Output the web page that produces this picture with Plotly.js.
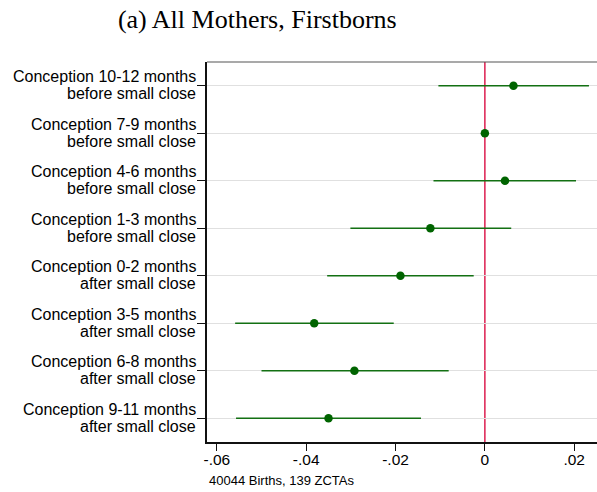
<!DOCTYPE html>
<html>
<head>
<meta charset="utf-8">
<script src="https://cdn.plot.ly/plotly-3.0.1.min.js"></script>
<style>html,body{margin:0;padding:0;background:#fff;}#chart{width:597px;height:492px;}</style>
</head>
<body>
<div id="chart"></div>
<script>
const categories = [
  "Conception 10-12 months<br>before small close",
  "Conception 7-9 months<br>before small close",
  "Conception 4-6 months<br>before small close",
  "Conception 1-3 months<br>before small close",
  "Conception 0-2 months<br>after small close",
  "Conception 3-5 months<br>after small close",
  "Conception 6-8 months<br>after small close",
  "Conception 9-11 months<br>after small close"
];
const estimates = [0.0064, 0.0, 0.0045, -0.0122, -0.0189, -0.0382, -0.0292, -0.0350];
const ciLow    = [-0.0104, 0.0, -0.0115, -0.0301, -0.0353, -0.0559, -0.0500, -0.0557];
const ciHigh   = [0.0233, 0.0, 0.0204, 0.0059, -0.0025, -0.0204, -0.0081, -0.0143];
const xTickVals = [-0.06, -0.04, -0.02, 0, 0.02];
const xTickText = ["-.06", "-.04", "-.02", "0", ".02"];
const titleText = "(a) All Mothers, Firstborns";
const noteText = "40044 Births, 139 ZCTAs";
const refLine = 0;

const plus = ciHigh.map((h, i) => h - estimates[i]);
const minus = estimates.map((e, i) => e - ciLow[i]);

const trace = {
  type: "scatter",
  mode: "markers",
  x: estimates,
  y: categories,
  marker: {color: "#006400", size: 8.5},
  error_x: {type: "data", symmetric: false, array: plus, arrayminus: minus,
            color: "#137013", thickness: 1.6, width: 0},
  hoverinfo: "skip",
  cliponaxis: false
};

const labelFont = {size: 16, family: "Liberation Sans, Arial, sans-serif", color: "#000"};
const labelAnnotations = [];
categories.forEach((c, i) => {
  const parts = c.split("<br>");
  labelAnnotations.push({text: parts[0], xref: "paper", yref: "y", x: 0, y: c,
    xanchor: "right", yanchor: "middle", xshift: -9, yshift: 8.8, showarrow: false, font: labelFont});
  labelAnnotations.push({text: parts[1], xref: "paper", yref: "y", x: 0, y: c,
    xanchor: "right", yanchor: "middle", xshift: -9, yshift: -8.0, showarrow: false, font: labelFont});
});

const layout = {
  width: 597, height: 492,
  margin: {l: 207, r: 0, t: 62, b: 50},
  paper_bgcolor: "#fff", plot_bgcolor: "#fff",
  showlegend: false,
  font: {family: "Liberation Sans, Arial, sans-serif", color: "#000"},
  title: {text: titleText, font: {family: "Liberation Serif, DejaVu Serif, serif", size: 26, color: "#000"},
          xref: "container", x: 0.431, xanchor: "center", yref: "container", y: 0.962, yanchor: "middle"},
  xaxis: {range: [-0.0622, 0.0251], tickvals: xTickVals, ticktext: xTickText,
          showgrid: false, zeroline: false, showline: true, linecolor: "#111", linewidth: 1.8,
          ticks: "outside", ticklen: 7, tickcolor: "#111", tickwidth: 1.2, ticklabelstandoff: -4,
          tickfont: {size: 15.5, family: "Liberation Sans, Arial, sans-serif"}},
  yaxis: {type: "category", categoryorder: "array", categoryarray: categories,
          range: [7.5, -0.5], showgrid: true, gridcolor: "#e0e0e0", gridwidth: 1.2,
          zeroline: false, showline: true, linecolor: "#111", linewidth: 1.8,
          showticklabels: false,
          ticks: "outside", ticklen: 8, tickcolor: "#111", tickwidth: 1.2},
  shapes: [
    {type: "line", xref: "x", yref: "paper", x0: refLine, x1: refLine, y0: 0, y1: 1,
     line: {color: "#dc1e50", width: 1.5}, layer: "below"},
    {type: "line", xref: "paper", yref: "paper", x0: 0, x1: 1, y0: 1, y1: 1,
     line: {color: "#555", width: 1.2}}
  ],
  annotations: labelAnnotations.concat([
    {text: noteText, xref: "paper", yref: "paper", x: 0, y: -0.1, xanchor: "left", yanchor: "middle",
     showarrow: false, font: {size: 13, family: "Liberation Sans, Arial, sans-serif", color: "#000"}}
  ])
};

Plotly.newPlot("chart", [trace], layout, {displayModeBar: false, staticPlot: true});
</script>
</body>
</html>
